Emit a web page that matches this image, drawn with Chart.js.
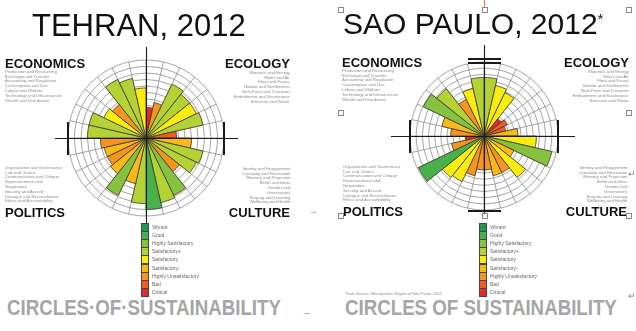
<!DOCTYPE html>
<html><head><meta charset="utf-8">
<script src="https://cdn.jsdelivr.net/npm/chart.js@4.4.1/dist/chart.umd.min.js"></script>
<style>
html,body{margin:0;padding:0;background:#fff;width:636px;height:331px;overflow:hidden;font-family:"Liberation Sans",Arial,sans-serif;}
canvas{position:absolute;}
.t{position:absolute;white-space:nowrap;line-height:1;}
.title{font-size:31px;color:#111;}
.dom{font-weight:bold;font-size:13px;color:#111;}
.para{font-size:8.6px;line-height:9.6px;color:#8c8c8c;transform:scale(0.5);transform-origin:0 0;}
.para.r{text-align:right;transform-origin:100% 0;}
.foot{font-size:22px;font-weight:bold;color:#a6a6a6;transform:scaleX(0.85);transform-origin:0 0;}
.mark{font-size:9px;color:#888;}
.handle{position:absolute;width:4px;height:4px;border:1px solid #888;background:#fff;}
.leg{position:absolute;}
.leg .row{position:absolute;left:0;height:8px;}
.leg .box{position:absolute;left:0;top:0;width:6px;height:7px;border:0.5px solid #444;}
.leg .lab{position:absolute;left:11px;top:0;font-size:10px;line-height:16px;color:#666;white-space:nowrap;transform:scale(0.5);transform-origin:0 0;}
</style>
</head><body>
<canvas id="tehran" width="212" height="195" style="left:40px;top:40px"></canvas>
<canvas id="saopaulo" width="208" height="180" style="left:380px;top:40px"></canvas>
<div id="texts"></div>
<script>
// ---- data ----
const subdomains = [
  'Materials and Energy','Water and Air','Flora and Fauna','Habitat and Settlements','Built-Form and Transport','Embodiment and Sustenance','Emission and Waste',
  'Identity and Engagement','Creativity and Recreation','Memory and Projection','Belief and Ideas','Gender and Generations','Enquiry and Learning','Wellbeing and Health',
  'Organization and Governance','Law and Justice','Communication and Critique','Representation and Negotiation','Security and Accord','Dialogue and Reconciliation','Ethics and Accountability',
  'Production and Resourcing','Exchange and Transfer','Accounting and Regulation','Consumption and Use','Labour and Welfare','Technology and Infrastructure','Wealth and Distribution'
];
const economicsLines = ['Production and Resourcing','Exchange and Transfer','Accounting and Regulation','Consumption and Use','Labour and Welfare','Technology and Infrastructure','Wealth and Distribution'];
const ecologyLines = ['Materials and Energy','Water and Air','Flora and Fauna','Habitat and Settlements','Built-Form and Transport','Embodiment and Sustenance','Emission and Waste'];
const politicsLines = ['Organization and Governance','Law and Justice','Communication and Critique','Representation and','Negotiation','Security and Accord','Dialogue and Reconciliation','Ethics and Accountability'];
const cultureLines = ['Identity and Engagement','Creativity and Recreation','Memory and Projection','Belief and Ideas','Gender and','Generations','Enquiry and Learning','Wellbeing and Health'];
// grade labels, top (9) to bottom (1)
const gradeLabels = ['Vibrant','Good','Highly Satisfactory','Satisfactory+','Satisfactory','Satisfactory-','Highly Unsatisfactory','Bad','Critical'];
const gradeNumbers = [9,8,7,6,5,4,3,2,1];
// scores (radius, on the rating scale) clockwise from 12 o'clock
const tehranScores = [1.7,2.6,6.2,5.6,5.6,6.0,1.7, 4.0,6.0,5.6,3.6,6.8,7.2,8.0, 7.1,4.2,6.8,4.0,3.6,3.6,4.0, 6.0,6.0,4.2,3.6,7.0,6.4,4.7];
const tehranGrades = [1,3,6,6,5,6,2, 4,6,6,3,7,6,8, 6,4,7,4,3,4,3, 6,6,5,3,6,6,5];
const saoPauloScores = [6.5,5.4,4.8,0.6,1.2,0.6,2.5, 5.5,8.3,2.4,5.6,3.6,3.6,2.5, 2.5,3.6,5.2,5.6,8.8,2.4,0.0, 2.4,4.0,7.9,6.8,3.6,4.9,6.5];
const saoPauloGrades = [6,5,5,1,2,2,4, 5,7,4,5,3,4,3, 3,3,5,5,8,3,1, 3,4,7,6,3,5,6];
const scaleMin = -3, scaleMax = 9;

// ---- styles ----
const palette = {1:'#e42a27',2:'#ef5b27',3:'#f7941d',4:'#fbb817',5:'#fbec10',6:'#b4d234',7:'#86c240',8:'#48b14a',9:'#1d9a50'};

function axisPlugin(g){
  return {id:'axes', afterDatasetsDraw(chart){
    const s=chart.scales.r, c=chart.ctx, cx=s.xCenter, cy=s.yCenter, R=s.drawingArea;
    c.save(); c.strokeStyle='#1a1a1a'; c.lineWidth=1.1;
    c.beginPath(); c.moveTo(cx-g.hl,cy+0.5); c.lineTo(cx+g.hr,cy+0.5);
    c.moveTo(cx+0.5,cy-g.vt); c.lineTo(cx+0.5,cy+g.vb); c.stroke();
    c.lineWidth=2;
    c.beginPath();
    c.moveTo(cx-R,cy-16); c.lineTo(cx-R,cy+17);
    c.moveTo(cx+R,cy-16); c.lineTo(cx+R,cy+17);
    if(g.topBars){ c.moveTo(cx-16,cy-R-3); c.lineTo(cx+17,cy-R-3); c.moveTo(cx-16,cy-R+1); c.lineTo(cx+17,cy-R+1);
      c.moveTo(cx-16,cy+R+1); c.lineTo(cx+17,cy+R+1); }
    c.stroke(); c.restore();
  }};
}
function makeChart(id, scores, grades, g){
  new Chart(document.getElementById(id), {
    type:'polarArea',
    data:{labels:subdomains, datasets:[{data:scores, backgroundColor:grades.map(x=>palette[x]), borderColor:'#3a3a2c', borderWidth:0.8}]},
    options:{responsive:false, animation:false, events:[],
      layout:{padding:g.pad},
      plugins:{legend:{display:false}, tooltip:{enabled:false}},
      scales:{r:{min:scaleMin, max:scaleMax, ticks:{display:false, stepSize:1},
        grid:{color:'#8e8e8e', lineWidth:0.8}, angleLines:{display:true, color:'#8e8e8e', lineWidth:0.8},
        pointLabels:{display:false}}}},
    plugins:[axisPlugin(g)]
  });
}
makeChart('tehran', tehranScores, tehranGrades, {pad:{left:28,right:28,top:20,bottom:19}, hl:91, hr:92, vt:91, vb:85, topBars:false});
makeChart('saopaulo', saoPauloScores, saoPauloGrades, {pad:{left:30,right:30,top:22,bottom:10}, hl:93, hr:91, vt:91, vb:79, topBars:true});

// ---- texts ----
const T=document.getElementById('texts');
function add(cls, html, css){ const d=document.createElement('div'); d.className='t '+cls; d.innerHTML=html; Object.assign(d.style, css); T.appendChild(d); return d; }
add('title','TEHRAN, 2012',{left:'32px',top:'10px'});
add('title','SAO PAULO, 2012<span style="font-size:15px;vertical-align:top;position:relative;top:2px">*</span>',{left:'343px',top:'9px',fontSize:'30px'});
function block(x, right, domTop, domain, lines, paraTop){
  const pos = right ? {right:(636-x)+'px'} : {left:x+'px'};
  add('dom', domain, Object.assign({top:domTop+'px'}, pos));
  add('para'+(right?' r':''), lines.join('<br>'), Object.assign({top:paraTop+'px'}, pos));
}
block(5,false,57,'ECONOMICS',economicsLines,69);
block(290,true,57,'ECOLOGY',ecologyLines,70);
block(5,false,206,'POLITICS',politicsLines,165);
block(290,true,206,'CULTURE',cultureLines,166);
block(342,false,56,'ECONOMICS',economicsLines,68);
block(629,true,56,'ECOLOGY',ecologyLines,69);
block(343,false,205,'POLITICS',politicsLines,164);
block(627,true,205,'CULTURE',cultureLines,165);
add('foot','CIRCLES·OF·SUSTAINABILITY',{left:'7px',top:'297px'});
add('foot','CIRCLES OF SUSTAINABILITY',{left:'345px',top:'297px'});
add('mark','→',{left:'309px',top:'207px'});
add('mark','→',{left:'302px',top:'308px'});
add('mark','↵',{left:'628px',top:'170px'});
add('mark','↵',{left:'628px',top:'292px'});
add('para','*Data Source: Metropolitan Region of São Paulo, 2012',{left:'345px',top:'291px',fontSize:'8px'});
// handles
[[338,7],[482,7],[626,7],[338,110],[626,110],[338,213],[482,213],[626,213]].forEach(p=>{const h=document.createElement('div');h.className='handle';h.style.left=p[0]+'px';h.style.top=p[1]+'px';document.body.appendChild(h);});
const ol=document.createElement('div'); Object.assign(ol.style,{position:'absolute',left:'484px',top:'0',width:'1px',height:'7px',background:'#e07030'}); document.body.appendChild(ol);
// legends
function legend(x,y){
  const L=document.createElement('div'); L.className='leg'; L.style.left=x+'px'; L.style.top=y+'px';
  gradeLabels.forEach((lab,i)=>{
    const r=document.createElement('div'); r.className='row'; r.style.top=(i*8.1)+'px';
    r.innerHTML='<div class="box" style="background:'+palette[gradeNumbers[i]]+'"></div><div class="lab">'+lab+'</div>';
    L.appendChild(r);
  });
  document.body.appendChild(L);
}
legend(141,223);
legend(479,223);
</script>
</body></html>
